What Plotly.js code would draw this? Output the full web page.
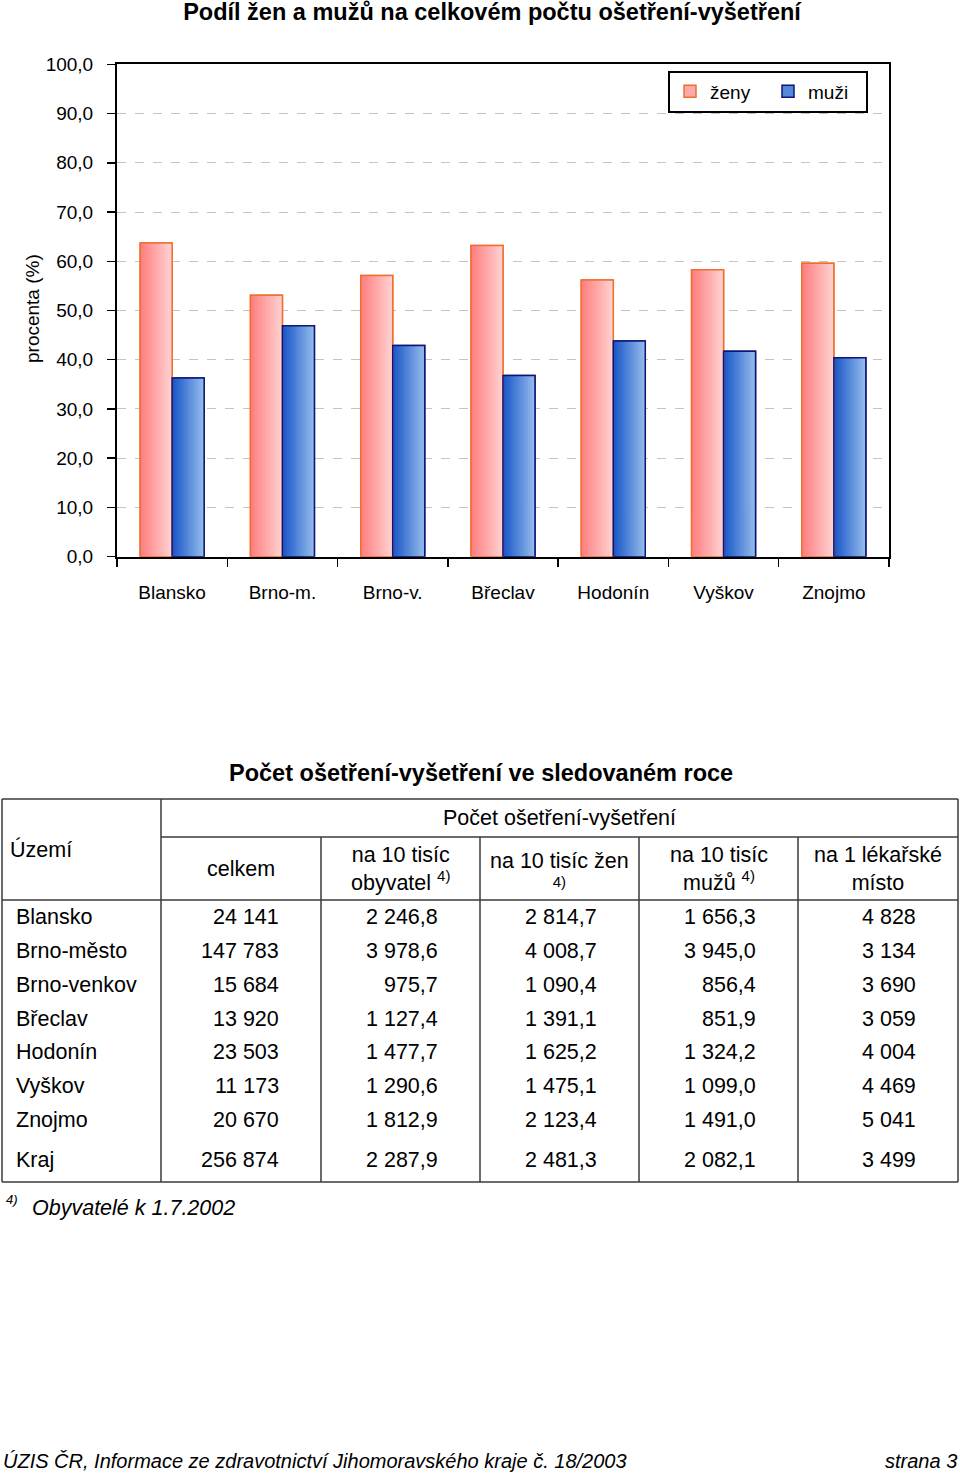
<!DOCTYPE html>
<html><head><meta charset="utf-8">
<script src="https://cdn.plot.ly/plotly-3.0.1.min.js"></script>
<style>body{margin:0;padding:0;background:#fff}</style>
</head><body>
<div id="chart" style="width:960px;height:1474px"></div>
<script>
// ---------- chart data ----------
const districts = ['Blansko', 'Brno-m.', 'Brno-v.', 'Břeclav', 'Hodonín', 'Vyškov', 'Znojmo'];
const zeny = [63.7, 53.1, 57.1, 63.2, 56.2, 58.3, 59.6];
const muzi = [36.3, 46.9, 42.9, 36.8, 43.8, 41.7, 40.4];
const seriesNames = ['ženy', 'muži'];
const chartTitle = 'Podíl žen a mužů na celkovém počtu ošetření-vyšetření';
const yTitle = 'procenta (%)';

// ---------- table data ----------
const tableTitle = 'Počet ošetření-vyšetření ve sledovaném roce';
const rowNames = ['Blansko', 'Brno-město', 'Brno-venkov', 'Břeclav', 'Hodonín', 'Vyškov', 'Znojmo', 'Kraj'];
const celkem = [24141, 147783, 15684, 13920, 23503, 11173, 20670, 256874];
const na10tisObyv = [2246.8, 3978.6, 975.7, 1127.4, 1477.7, 1290.6, 1812.9, 2287.9];
const na10tisZen = [2814.7, 4008.7, 1090.4, 1391.1, 1625.2, 1475.1, 2123.4, 2481.3];
const na10tisMuzu = [1656.3, 3945.0, 856.4, 851.9, 1324.2, 1099.0, 1491.0, 2082.1];
const na1Misto = [4828, 3134, 3690, 3059, 4004, 4469, 5041, 3499];
const headerGroup = 'Počet ošetření-vyšetření';
const headerCols = ['celkem', 'na 10 tisíc<br>obyvatel <sup>4)</sup>', 'na 10 tisíc žen<br><sup>4)</sup>',
                    'na 10 tisíc<br>mužů <sup>4)</sup>', 'na 1 lékařské<br>místo'];
const headerFirst = 'Území';
const footnote = 'Obyvatelé k 1.7.2002';
const footerLeft = 'ÚZIS ČR, Informace ze zdravotnictví Jihomoravského kraje č. 18/2003';
const footerRight = 'strana 3';

// ---------- helpers ----------
const W = 960, H = 1474;
const px = x => x / W;
const py = y => 1 - y / H;
function fmt(v, dec) {
  const s = v.toFixed(dec);
  const parts = s.split('.');
  const int = parts[0].replace(/\B(?=(\d{3})+(?!\d))/g, ' ');
  return parts.length > 1 ? int + ',' + parts[1] : int;
}
const SANS = '"Liberation Sans", Arial, sans-serif';
const NARROW = SANS;
const NS = 19;   // size used for the (originally condensed) chart texts
const TS = 21.5; // table text size

// ---------- bars ----------
const BW = 0.29;
const traces = [];
const zenyLine = 'rgb(238,112,48)', muziLine = 'rgb(12,22,120)';
const zenyC0 = [255, 128, 128], zenyC1 = [255, 208, 208];
const muziC0 = [28, 88, 200], muziC1 = [146, 186, 236];
const mix = (a, b, t) => 'rgb(' + a.map((v, i) => Math.round(v + (b[i] - v) * t)).join(',') + ')';

traces.push({type: 'bar', x: districts, y: zeny, name: seriesNames[0], offset: -BW, width: BW,
  marker: {color: mix(zenyC0, zenyC1, 0.5), line: {color: zenyLine, width: 1.5}}, hoverinfo: 'y'});
traces.push({type: 'bar', x: districts, y: muzi, name: seriesNames[1], offset: 0, width: BW,
  marker: {color: mix(muziC0, muziC1, 0.5), line: {color: muziLine, width: 1.5}}, hoverinfo: 'y'});

const N = 14, step = BW / N;
[[zeny, -BW, zenyC0, zenyC1], [muzi, 0, muziC0, muziC1]].forEach(([vals, off, c0, c1]) => {
  for (let i = 0; i < N; i++) {
    const o = off + i * step;
    traces.push({type: 'bar', x: districts, y: vals, offset: o, width: Math.min(step * 1.6, off + BW - o),
      marker: {color: mix(c0, c1, i / (N - 1)), line: {width: 0}}, showlegend: false, hoverinfo: 'skip'});
  }
});
traces.push({type: 'bar', x: districts, y: zeny, offset: -BW, width: BW, showlegend: false, hoverinfo: 'skip',
  marker: {color: 'rgba(0,0,0,0)', line: {color: zenyLine, width: 1.5}}});
traces.push({type: 'bar', x: districts, y: muzi, offset: 0, width: BW, showlegend: false, hoverinfo: 'skip',
  marker: {color: 'rgba(0,0,0,0)', line: {color: muziLine, width: 1.5}}});

// ---------- table geometry ----------
const tL = 2, tR = 958, tT = 799, tB = 1182, hMid = 837, hBot = 900;
const colX = [161, 321, 480, 639, 798];
const rowY = [917, 951, 985, 1019, 1052, 1086, 1120, 1160];
const lineStyle = {color: '#3a3a3a', width: 1.5};
const shapes = [];
function seg(x0, y0, x1, y1) {
  shapes.push({type: 'line', xref: 'paper', yref: 'paper', x0: px(x0), y0: py(y0), x1: px(x1), y1: py(y1), line: lineStyle});
}
seg(tL, tT, tR, tT); seg(tL, tB, tR, tB); seg(tL, tT, tL, tB); seg(tR, tT, tR, tB);
seg(colX[0], hMid, tR, hMid); seg(tL, hBot, tR, hBot);
seg(colX[0], tT, colX[0], tB);
for (let i = 1; i < colX.length; i++) seg(colX[i], hMid, colX[i], tB);

const annotations = [];
function ann(text, x, y, opt) {
  opt = opt || {};
  annotations.push({text: text, xref: 'paper', yref: 'paper', x: px(x), y: py(y), showarrow: false,
    xanchor: opt.xa || 'center', yanchor: 'middle', align: opt.align || 'center',
    font: {family: opt.family || SANS, size: opt.size || TS, color: '#000'}, textangle: opt.angle || 0});
}
// chart y title
ann(yTitle, 32, 309, {angle: -90, family: NARROW, size: NS});
// table title
ann('<b>' + tableTitle + '</b>', 480.5, 773, {size: 23.5});
// header
ann(headerFirst, 8, 849, {xa: 'left'});
ann(headerGroup, 559.5, 818);
headerCols.forEach((t, i) => {
  const x0 = colX[i], x1 = i + 1 < colX.length ? colX[i + 1] : tR;
  ann(t, (x0 + x1) / 2, 869);
});
// rows
const cols = [[celkem, 0], [na10tisObyv, 1], [na10tisZen, 1], [na10tisMuzu, 1], [na1Misto, 0]];
rowNames.forEach((n, r) => {
  ann(n, 14, rowY[r], {xa: 'left'});
  cols.forEach(([vals, dec], c) => {
    const right = (c + 1 < colX.length ? colX[c + 1] : tR) - 40;
    ann(fmt(vals[r], dec), right, rowY[r], {xa: 'right'});
  });
});
// footnote
ann('<i>4)</i>', 4, 1199, {xa: 'left', size: 13});
ann('<i>' + footnote + '</i>', 30, 1208, {xa: 'left'});
// footer
ann('<i>' + footerLeft + '</i>', 1, 1461, {xa: 'left', family: NARROW, size: 20});
ann('<i>' + footerRight + '</i>', 959, 1461, {xa: 'right', family: NARROW, size: 20});

const layout = {
  width: W, height: H,
  margin: {l: 0, r: 0, t: 0, b: 0},
  paper_bgcolor: '#fff', plot_bgcolor: '#fff',
  separators: ', ',
  barmode: 'overlay',
  showlegend: true,
  title: {text: '<b>' + chartTitle + '</b>', x: px(492), xanchor: 'center', xref: 'paper',
          y: py(12), yref: 'paper', yanchor: 'middle', font: {family: SANS, size: 23.5, color: '#000'}},
  xaxis: {domain: [px(117), px(889)], type: 'category', showline: true, linecolor: '#000', linewidth: 2, mirror: true,
          ticks: 'outside', tickson: 'boundaries', ticklen: 8, tickwidth: 1.5, tickcolor: '#000',
          showgrid: false, zeroline: false, ticklabelstandoff: 17,
          tickfont: {family: NARROW, size: NS, color: '#000'}},
  yaxis: {domain: [py(556.7), py(64.3)], range: [0, 100], dtick: 10, tick0: 0, tickformat: '.1f',
          showline: true, linecolor: '#000', linewidth: 2, mirror: true,
          ticks: 'outside', ticklen: 8, tickwidth: 1.5, tickcolor: '#000', ticklabelstandoff: 10,
          showgrid: true, gridcolor: '#c4c4c4', gridwidth: 1, griddash: 'dash', zeroline: false,
          tickfont: {family: NARROW, size: NS, color: '#000'}},
  legend: {x: px(668), y: py(91.5), xanchor: 'left', yanchor: 'middle', orientation: 'h',
           bordercolor: '#000', borderwidth: 2, bgcolor: '#fff', entrywidth: 53, entrywidthmode: 'pixels',
           font: {family: NARROW, size: NS, color: '#000'}, traceorder: 'normal'},
  shapes: shapes,
  annotations: annotations
};

Plotly.newPlot('chart', traces, layout, {displayModeBar: false, staticPlot: true});
</script>
</body></html>
